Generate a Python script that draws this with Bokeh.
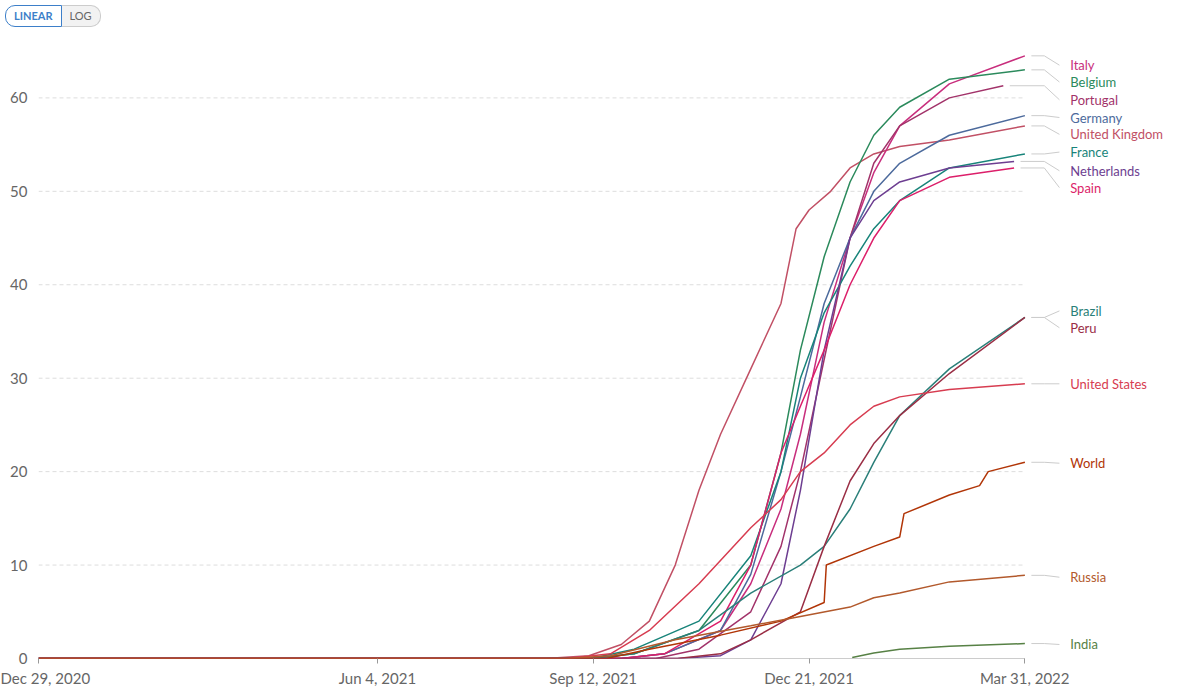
import pandas as pd
from bokeh.embed import file_html
from bokeh.resources import INLINE
from bokeh.plotting import figure
from bokeh.models import Div, FixedTicker
from bokeh.layouts import column
from bokeh.core.properties import value

START = "2020-12-29"
END = "2022-03-31"

series = {
    "United Kingdom": ("#c15065", ["2021-09-10", "2021-09-25", "2021-10-08", "2021-10-20", "2021-10-31", "2021-11-10", "2021-11-24", "2021-12-08", "2021-12-15", "2021-12-21", "2021-12-31", "2022-01-09", "2022-01-20", "2022-02-01", "2022-02-24", "2022-03-31"],
                       [0.3, 1.5, 4, 10, 18, 24, 31, 38, 46, 48, 50, 52.5, 54, 54.8, 55.5, 57]),
    "Italy": ("#c82e7d", ["2021-10-15", "2021-11-10", "2021-11-24", "2021-12-08", "2021-12-17", "2021-12-28", "2022-01-09", "2022-01-20", "2022-02-01", "2022-02-24", "2022-03-31"],
              [0.5, 3, 8, 16, 24, 36, 45, 52, 57, 61.5, 64.5]),
    "Belgium": ("#2b8a5c", ["2021-10-01", "2021-10-31", "2021-11-24", "2021-12-08", "2021-12-17", "2021-12-28", "2022-01-09", "2022-01-20", "2022-02-01", "2022-02-24", "2022-03-31"],
                [0.5, 3, 10, 22, 33, 43, 51, 56, 59, 62, 63]),
    "Portugal": ("#a2336a", ["2021-10-31", "2021-11-24", "2021-12-08", "2021-12-17", "2021-12-28", "2022-01-09", "2022-01-20", "2022-02-01", "2022-02-24", "2022-03-21"],
                 [1, 5, 12, 20, 32, 45, 53, 57, 60, 61.3]),
    "Germany": ("#4c6a9c", ["2021-10-15", "2021-11-10", "2021-11-24", "2021-12-08", "2021-12-17", "2021-12-28", "2022-01-09", "2022-01-20", "2022-02-01", "2022-02-24", "2022-03-31"],
                [0.5, 3, 9, 20, 28, 38, 45, 50, 53, 56, 58.1]),
    "France": ("#18847a", ["2021-10-01", "2021-10-31", "2021-11-24", "2021-12-08", "2021-12-17", "2021-12-28", "2022-01-09", "2022-01-20", "2022-02-01", "2022-02-24", "2022-03-31"],
               [1, 4, 11, 20, 30, 37, 42, 46, 49, 52.5, 54]),
    "Netherlands": ("#6d3e91", ["2021-11-10", "2021-11-24", "2021-12-08", "2021-12-17", "2021-12-28", "2022-01-09", "2022-01-20", "2022-02-01", "2022-02-24", "2022-03-26"],
                    [0.3, 2, 8, 18, 33, 45, 49, 51, 52.5, 53.2]),
    "Spain": ("#dc1f6a", ["2021-10-15", "2021-11-10", "2021-11-24", "2021-12-08", "2021-12-17", "2021-12-28", "2022-01-09", "2022-01-20", "2022-02-01", "2022-02-24", "2022-03-26"],
              [0.5, 4, 10, 22, 27, 33, 40, 45, 49, 51.5, 52.5]),
    "Brazil": ("#2a7f79", ["2021-10-01", "2021-10-31", "2021-11-24", "2021-12-17", "2021-12-28", "2022-01-09", "2022-01-20", "2022-02-01", "2022-02-24", "2022-03-31"],
               [0.5, 3, 7, 10, 12, 16, 21, 26, 31, 36.5]),
    "Peru": ("#9a2e45", ["2021-11-10", "2021-11-24", "2021-12-17", "2021-12-28", "2022-01-09", "2022-01-20", "2022-02-01", "2022-02-24", "2022-03-31"],
             [0.5, 2, 5, 12, 19, 23, 26, 30.5, 36.5]),
    "United States": ("#d73c50", ["2021-09-20", "2021-10-08", "2021-10-31", "2021-11-24", "2021-12-08", "2021-12-17", "2021-12-28", "2022-01-09", "2022-01-20", "2022-02-01", "2022-02-24", "2022-03-31"],
                      [0.5, 3, 8, 14, 17, 20, 22, 25, 27, 28, 28.8, 29.4]),
    "World": ("#b13507", ["2021-10-08", "2021-11-10", "2021-12-08", "2021-12-28", "2021-12-29", "2022-01-20", "2022-02-01", "2022-02-03", "2022-02-24", "2022-03-10", "2022-03-14", "2022-03-31"],
              [1, 2.5, 4, 6, 10, 12, 13, 15.5, 17.5, 18.5, 20, 21]),
    "Russia": ("#b2592c", ["2021-09-20", "2021-10-20", "2021-11-24", "2021-12-17", "2022-01-09", "2022-01-20", "2022-02-01", "2022-02-24", "2022-03-31"],
               [0.3, 2, 3.5, 4.5, 5.5, 6.5, 7, 8.2, 8.9]),
    "India": ("#578145", ["2022-01-10", "2022-01-20", "2022-02-01", "2022-02-24", "2022-03-31"],
              [0.1, 0.6, 1, 1.3, 1.6]),
}

label_y = {"Italy": 63.5, "Belgium": 61.7, "Portugal": 59.8, "Germany": 57.9,
           "United Kingdom": 56.1, "France": 54.2, "Netherlands": 52.2, "Spain": 50.4,
           "Brazil": 37.2, "Peru": 35.4, "United States": 29.4, "World": 20.9,
           "Russia": 8.7, "India": 1.5}

tick_dates = ["2020-12-29", "2021-06-04", "2021-09-12", "2021-12-21", "2022-03-31"]
tick_labels = ["Dec 29, 2020", "Jun 4, 2021", "Sep 12, 2021", "Dec 21, 2021", "Mar 31, 2022"]
y_ticks = [0, 10, 20, 30, 40, 50, 60]

FONT = "Lato"
ts = lambda d: pd.Timestamp(d)
day = pd.Timedelta(days=1)

p = figure(width=1169, height=657, output_backend="svg", toolbar_location=None,
           x_axis_type="datetime",
           x_range=(ts(START), ts(START) + 524 * day), y_range=(0, 65.5),
           min_border_left=38, min_border_right=0, min_border_top=14)
p.outline_line_color = None
p.grid.visible = False

# dashed gridlines up to the end date
for t in y_ticks[1:]:
    p.line([ts(START), ts(END)], [t, t], line_color="#dddddd", line_dash="4 3", line_width=1)
p.line([ts(START), ts(END)], [0, 0], line_color="#999999", line_width=1)

for name, (color, dates, vals) in series.items():
    xs = [ts(d) for d in dates]
    ys = list(vals)
    if name != "India":
        # flat at zero until shortly before the first reading
        xs = [ts(START), xs[0] - 20 * day] + xs
        ys = [0, 0] + ys
    p.line(xs, ys, line_color=color, line_width=1.5)
    ly = label_y[name]
    p.line([xs[-1] + 3 * day, ts(END) + 9 * day, ts(END) + 16 * day],
           [vals[-1], vals[-1], ly], line_color="#cccccc", line_width=1)
    p.text([ts(END) + 21 * day], [ly], text=[name], text_color=color,
           text_font=value(FONT), text_font_size="13px", text_baseline="middle")

tick_ms = [ts(d).value / 1e6 for d in tick_dates]
p.xaxis.ticker = FixedTicker(ticks=tick_ms)
p.xaxis.major_label_overrides = {t: l for t, l in zip(tick_ms, tick_labels)}
p.xaxis.axis_line_color = None
p.xaxis.major_tick_line_color = "#999999"
p.xaxis.minor_tick_line_color = None
p.xaxis.major_tick_out = 5
p.xaxis.major_tick_in = 0
p.yaxis.ticker = FixedTicker(ticks=y_ticks)
p.yaxis.axis_line_color = None
p.yaxis.major_tick_line_color = None
p.yaxis.minor_tick_line_color = None
for ax in (p.xaxis, p.yaxis):
    ax.major_label_text_font = FONT
    ax.major_label_text_font_size = "15px"
    ax.major_label_text_color = "#666666"

buttons = Div(text="""
<div style="display:flex;font-family:Lato;font-size:11px;font-weight:bold;">
<span style="border:1px solid #3d7fc9;color:#3d7fc9;padding:2px 8px;border-radius:10px 0 0 10px;">LINEAR</span>
<span style="border:1px solid #ccc;border-left:none;color:#666;background:#f2f2f2;padding:2px 8px;border-radius:0 10px 10px 0;font-weight:normal;">LOG</span>
</div>""", width=200, height=22)

layout = column(buttons, p)
open("out.html", "w").write(file_html(layout, INLINE))
